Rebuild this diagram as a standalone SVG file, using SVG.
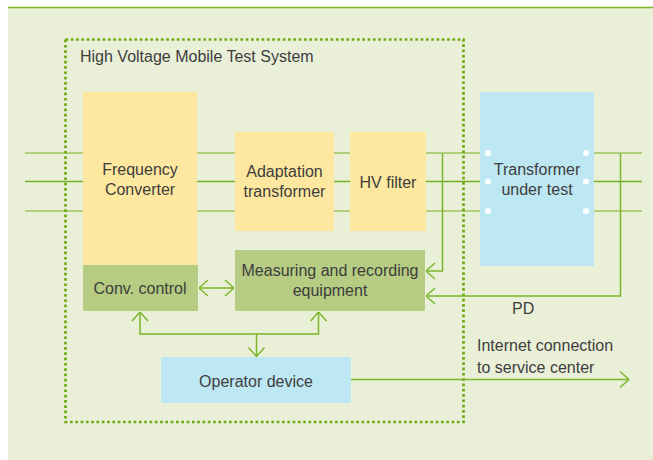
<svg xmlns="http://www.w3.org/2000/svg" width="653" height="460" viewBox="0 0 653 460">
  <defs>
    <style>
      .txt { font-family: "Liberation Sans", Arial, sans-serif; font-size: 16px; fill: #3d3d3d; }
      .mid { text-anchor: middle; }
      .bus-light { stroke: #9cc660; stroke-width: 1.6; fill: none; }
      .bus-dark { stroke: #72ad22; stroke-width: 1.6; fill: none; }
      .wire { stroke: #7ab52a; stroke-width: 1.5; fill: none; }
      .yellow { fill: #fee89f; }
      .green { fill: #b5cc82; }
      .blue { fill: #bde7f3; }
    </style>
    <marker id="chev" viewBox="0 0 10 18" refX="10" refY="9" markerWidth="10" markerHeight="18" markerUnits="userSpaceOnUse" orient="auto-start-reverse">
      <path d="M1,1 L10,9 L1,17" fill="none" stroke="#7ab52a" stroke-width="1.4"/>
    </marker>
  </defs>

  <!-- page background -->
  <rect x="0" y="0" width="653" height="460" fill="#ffffff"/>
  <rect x="8" y="7" width="645" height="453" fill="#eaf0d8"/>
  <line x1="8" y1="7.5" x2="653" y2="7.5" stroke="#7ab52a" stroke-width="1.6"/>

  <!-- three-phase bus lines (behind the boxes) -->
  <g id="bus">
    <line class="bus-light" x1="25" y1="153" x2="642" y2="153"/>
    <line class="bus-dark" x1="25" y1="181.5" x2="642" y2="181.5"/>
    <line class="bus-light" x1="25" y1="211" x2="642" y2="211"/>
  </g>

  <!-- system boundary -->
  <g id="system">
    <rect x="65.5" y="39.5" width="398" height="382.5" fill="none" stroke="#6eaa14" stroke-width="2.7" stroke-dasharray="2.7 2.6"/>
    <text class="txt" x="80" y="62">High Voltage Mobile Test System</text>
  </g>

  <g id="frequency-converter">
    <rect class="yellow" x="83" y="92" width="114" height="173"/>
    <text class="txt mid" x="140" y="175">Frequency</text>
    <text class="txt mid" x="140" y="195">Converter</text>
  </g>

  <g id="conv-control">
    <rect class="green" x="83" y="265" width="115" height="46"/>
    <text class="txt mid" x="140" y="294">Conv. control</text>
  </g>

  <g id="adaptation-transformer">
    <rect class="yellow" x="235" y="132" width="99" height="99"/>
    <text class="txt mid" x="284.5" y="177">Adaptation</text>
    <text class="txt mid" x="284.5" y="197">transformer</text>
  </g>

  <g id="hv-filter">
    <rect class="yellow" x="350" y="132" width="76" height="99"/>
    <text class="txt mid" x="388" y="188">HV filter</text>
  </g>

  <g id="measuring">
    <rect class="green" x="235" y="250" width="190" height="61"/>
    <text class="txt mid" x="330" y="276">Measuring and recording</text>
    <text class="txt mid" x="330" y="296">equipment</text>
  </g>

  <g id="transformer-under-test">
    <rect class="blue" x="480" y="92" width="114" height="174"/>
    <g fill="#ffffff">
      <circle cx="488" cy="153" r="3"/>
      <circle cx="488" cy="181.5" r="3"/>
      <circle cx="488" cy="211" r="3"/>
      <circle cx="586" cy="153" r="3"/>
      <circle cx="586" cy="181.5" r="3"/>
      <circle cx="586" cy="211" r="3"/>
    </g>
    <text class="txt mid" x="537" y="175">Transformer</text>
    <text class="txt mid" x="537" y="195">under test</text>
  </g>

  <g id="operator-device">
    <rect class="blue" x="161" y="357" width="190" height="46"/>
    <text class="txt mid" x="256" y="387">Operator device</text>
  </g>

  <!-- connectors -->
  <g id="connectors">
    <!-- HV tap to measuring -->
    <polyline class="wire" points="442.5,153 442.5,271 426,271" marker-end="url(#chev)"/>
    <!-- PD signal to measuring -->
    <polyline class="wire" points="620.5,153 620.5,296 426,296" marker-end="url(#chev)"/>
    <!-- conv. control <-> measuring -->
    <line class="wire" x1="199" y1="288" x2="234" y2="288" marker-start="url(#chev)" marker-end="url(#chev)"/>
    <!-- control bus to both units -->
    <polyline class="wire" points="140,312 140,334 318.5,334 318.5,312" marker-start="url(#chev)" marker-end="url(#chev)"/>
    <line class="wire" x1="256.5" y1="334" x2="256.5" y2="356.5" marker-end="url(#chev)"/>
    <!-- internet uplink -->
    <line class="wire" x1="351" y1="379.5" x2="629" y2="379.5" marker-end="url(#chev)"/>
  </g>

  <text class="txt" x="512" y="314">PD</text>
  <text class="txt" x="477" y="351">Internet connection</text>
  <text class="txt" x="477" y="373">to service center</text>
</svg>
